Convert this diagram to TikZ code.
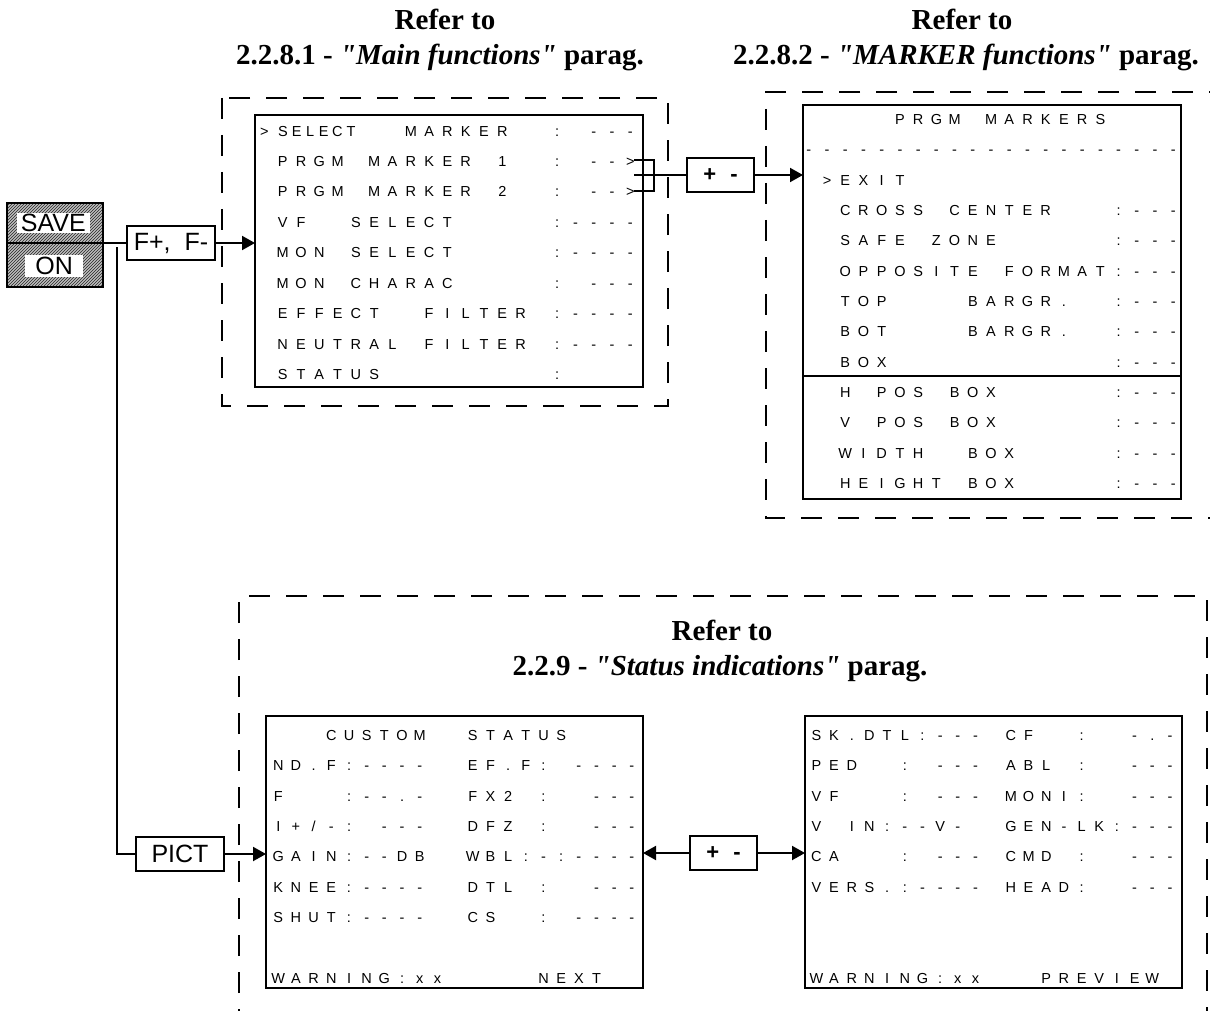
\documentclass[tikz,border=0pt]{standalone}
\usepackage{fontspec}
\setmainfont{Liberation Serif}
\newfontfamily\headf{Liberation Serif}
\newfontfamily\arialf{Liberation Sans}
\usetikzlibrary{arrows.meta,patterns}
\newlength\cw
\def\cellrow#1{\cellloop#1\relax}
\def\cellloop#1{\ifx#1\relax\else\makebox[\cw][c]{#1}\expandafter\cellloop\fi}
\newcommand\crow[2]{\setlength\cw{#1pt}\cellrow{#2}}
\begin{document}
\begin{tikzpicture}[x=1pt,y=-1pt,
  box/.style={draw, line width=1.4pt, inner sep=0pt, outer sep=0pt},
  btn/.style={draw, line width=1.6pt, inner sep=0pt, outer sep=0pt, font=\arialf\fontsize{25}{25}\selectfont},
  pm/.style={draw, line width=1.6pt, inner sep=0pt, outer sep=0pt, minimum width=67pt, minimum height=34pt, font=\arialf\bfseries\fontsize{22}{22}\selectfont},
  scr/.style={inner sep=0pt, outer sep=0pt, anchor=base west, font=\arialf\fontsize{14.5}{17}\selectfont},
  head/.style={inner sep=0pt, anchor=base, font=\headf\bfseries\fontsize{29}{33}\selectfont},
  conn/.style={line width=2pt},
  arr/.style={-{Triangle[length=13pt,width=14pt]}},
  dbox/.style={line width=2.2pt, dash pattern=on 21pt off 16pt}
]
\useasboundingbox (0,0) rectangle (1210,1011);
\clip (0,0) rectangle (1210,1011);

% headings
\node[head] (h1a) at (445,30) {Refer to};
\node[head] (h1b) at (440,65) {2.2.8.1 - \textit{"Main functions"} parag.};
\node[head] (h2a) at (962,30) {Refer to};
\node[head] (h2b) at (966,65) {2.2.8.2 - \textit{"MARKER functions"} parag.};
\node[head] (h3a) at (722,640) {Refer to};
\node[head] (h3b) at (720,675) {2.2.9 - \textit{"Status indications"} parag.};

% dashed frames
\draw[dbox] (222,98) rectangle (668,406);
\draw[dbox] (1230,92) -- (766,92) -- (766,518) -- (1230,518);
\draw[dbox] (239,1030) -- (239,596) -- (1207,596) -- (1207,1030);

% SAVE / ON
\fill[gray!50] (7,203) rectangle (103,287);
\node[draw, line width=2pt, inner sep=0pt, outer sep=0pt, minimum width=96pt, minimum height=40pt, pattern=north east lines, pattern color=black!85] (save) at (55,223) {};
\node[draw, line width=2pt, inner sep=0pt, outer sep=0pt, minimum width=96pt, minimum height=44pt, pattern=north east lines, pattern color=black!85] (on) at (55,265) {};
\node[fill=white, inner sep=0pt, minimum width=73pt, minimum height=20pt, font=\arialf\fontsize{25}{25}\selectfont] (savet) at (53.4,223) {SAVE};
\node[fill=white, inner sep=0pt, minimum width=58pt, minimum height=22pt, font=\arialf\fontsize{25}{25}\selectfont] (ont) at (54.2,266) {ON};

% buttons
\node[btn, minimum width=88pt, minimum height=34pt] (fbox) at (171,243) {F+,\hspace{14pt}F-};
\node[btn, minimum width=88pt, minimum height=34pt] (pict) at (180,854) {PICT};
\node[pm] (pm1) at (720.5,175) {+\hspace{14pt}-};
\node[pm] (pm2) at (723.5,853) {+\hspace{14pt}-};

% screens
\node[box, minimum width=388pt, minimum height=272pt] (main) at (449,251) {};
\node[box, minimum width=378pt, minimum height=394pt] (mk) at (992,302) {};
\node[box, minimum width=377pt, minimum height=272pt] (stl) at (454.5,852) {};
\node[box, minimum width=377pt, minimum height=272pt] (str) at (993.5,852) {};
\coordinate (dv) at (0,376);
\draw[line width=1.4pt] (mk.west |- dv) -- (mk.east |- dv);

% main screen text
\node[scr] (m0a) at (255.25,136.2) {\crow{18.3}{>}};
\node[scr] (m0b) at (276.2,136.2) {\crow{13.6}{SELECT}};
\node[scr] (m0c) at (273.55,136.2) {\crow{18.3}{~~~~~~~MARKER~~:~---}};
\node[scr] (m1) at (273.55,166.6) {\crow{18.3}{PRGM~MARKER~1~~:~-->}};
\node[scr] (m2) at (273.55,197.0) {\crow{18.3}{PRGM~MARKER~2~~:~-->}};
\node[scr] (m3) at (273.55,227.4) {\crow{18.3}{VF~~SELECT~~~~~:----}};
\node[scr] (m4) at (273.55,257.8) {\crow{18.3}{MON~SELECT~~~~~:----}};
\node[scr] (m5) at (273.55,288.2) {\crow{18.3}{MON~CHARAC~~~~~:~---}};
\node[scr] (m6) at (273.55,318.6) {\crow{18.3}{EFFECT~~FILTER~:----}};
\node[scr] (m7) at (273.55,349.0) {\crow{18.3}{NEUTRAL~FILTER~:----}};
\node[scr] (m8) at (273.55,379.4) {\crow{18.3}{STATUS~~~~~~~~~:}};

% markers screen text
\node[scr] (k0) at (799.7,124.5) {\crow{18.225}{~~~~~PRGM~MARKERS}};
\node[scr] (k1) at (799.7,154.5) {\crow{18.225}{---------------------}};
\node[scr] (k2) at (799.7,185.2) {\crow{18.225}{~>EXIT}};
\node[scr] (k3) at (799.7,215.5) {\crow{18.225}{~~CROSS~CENTER~~~:---}};
\node[scr] (k4) at (799.7,245.9) {\crow{18.225}{~~SAFE~ZONE~~~~~~:---}};
\node[scr] (k5) at (799.7,276.2) {\crow{18.225}{~~OPPOSITE~FORMAT:---}};
\node[scr] (k6) at (799.7,306.5) {\crow{18.225}{~~TOP~~~~BARGR.~~:---}};
\node[scr] (k7) at (799.7,336.9) {\crow{18.225}{~~BOT~~~~BARGR.~~:---}};
\node[scr] (k8) at (799.7,367.2) {\crow{18.225}{~~BOX~~~~~~~~~~~~:---}};
\node[scr] (k9) at (799.7,397.5) {\crow{18.225}{~~H~POS~BOX~~~~~~:---}};
\node[scr] (k10) at (799.7,427.8) {\crow{18.225}{~~V~POS~BOX~~~~~~:---}};
\node[scr] (k11) at (799.7,458.2) {\crow{18.225}{~~WIDTH~~BOX~~~~~:---}};
\node[scr] (k12) at (799.7,488.5) {\crow{18.225}{~~HEIGHT~BOX~~~~~:---}};

% custom status screen
\node[scr] (l0) at (269.46,740.2) {\crow{17.68}{~~~CUSTOM~~STATUS}};
\node[scr] (l1) at (269.46,770.6) {\crow{17.68}{ND.F:----~~EF.F:~----}};
\node[scr] (l2) at (269.46,801.0) {\crow{17.68}{F~~~:--.-~~FX2~:~~---}};
\node[scr] (l3) at (269.46,831.4) {\crow{17.68}{I+/-:~---~~DFZ~:~~---}};
\node[scr] (l4) at (269.46,861.8) {\crow{17.68}{GAIN:--DB~~WBL:-:----}};
\node[scr] (l5) at (269.46,892.2) {\crow{17.68}{KNEE:----~~DTL~:~~---}};
\node[scr] (l6) at (269.46,922.6) {\crow{17.68}{SHUT:----~~CS~~:~----}};
\node[scr] (l8) at (269.46,983.4) {\crow{17.68}{WARNING:xx~~~~~NEXT}};

% second status screen
\node[scr] (r0) at (807.56,740.2) {\crow{17.68}{SK.DTL:---~CF~~:~~-.-}};
\node[scr] (r1) at (807.56,770.6) {\crow{17.68}{PED~~:~---~ABL~:~~---}};
\node[scr] (r2) at (807.56,801.0) {\crow{17.68}{VF~~~:~---~MONI:~~---}};
\node[scr] (r3) at (807.56,831.4) {\crow{17.68}{V~IN:--V-~~GEN-LK:---}};
\node[scr] (r4) at (807.56,861.8) {\crow{17.68}{CA~~~:~---~CMD~:~~---}};
\node[scr] (r5) at (807.56,892.2) {\crow{17.68}{VERS.:----~HEAD:~~---}};
\node[scr] (r8) at (807.56,983.4) {\crow{17.68}{WARNING:xx~~~PREVIEW}};

% connectors
\draw[conn] (save.south east) -- (fbox.west);
\draw[conn,arr] (fbox.east) -- (fbox.east -| main.west);
\coordinate (vtop) at (117,247);
\draw[conn] (vtop) |- (pict.west);
\draw[conn,arr] (pict.east) -- (pict.east -| stl.west);
\coordinate (br1) at (634,160);
\coordinate (br2) at (634,191);
\coordinate (brm) at (634,175);
\draw[conn] (br1) -- ++(20,0) |- (br2);
\draw[conn] (brm) -- (pm1.west);
\draw[conn,arr] (pm1.east) -- (pm1.east -| mk.west);
\draw[conn,arr] (pm2.west) -- (pm2.west -| stl.east);
\draw[conn,arr] (pm2.east) -- (pm2.east -| str.west);
\end{tikzpicture}
\end{document}
